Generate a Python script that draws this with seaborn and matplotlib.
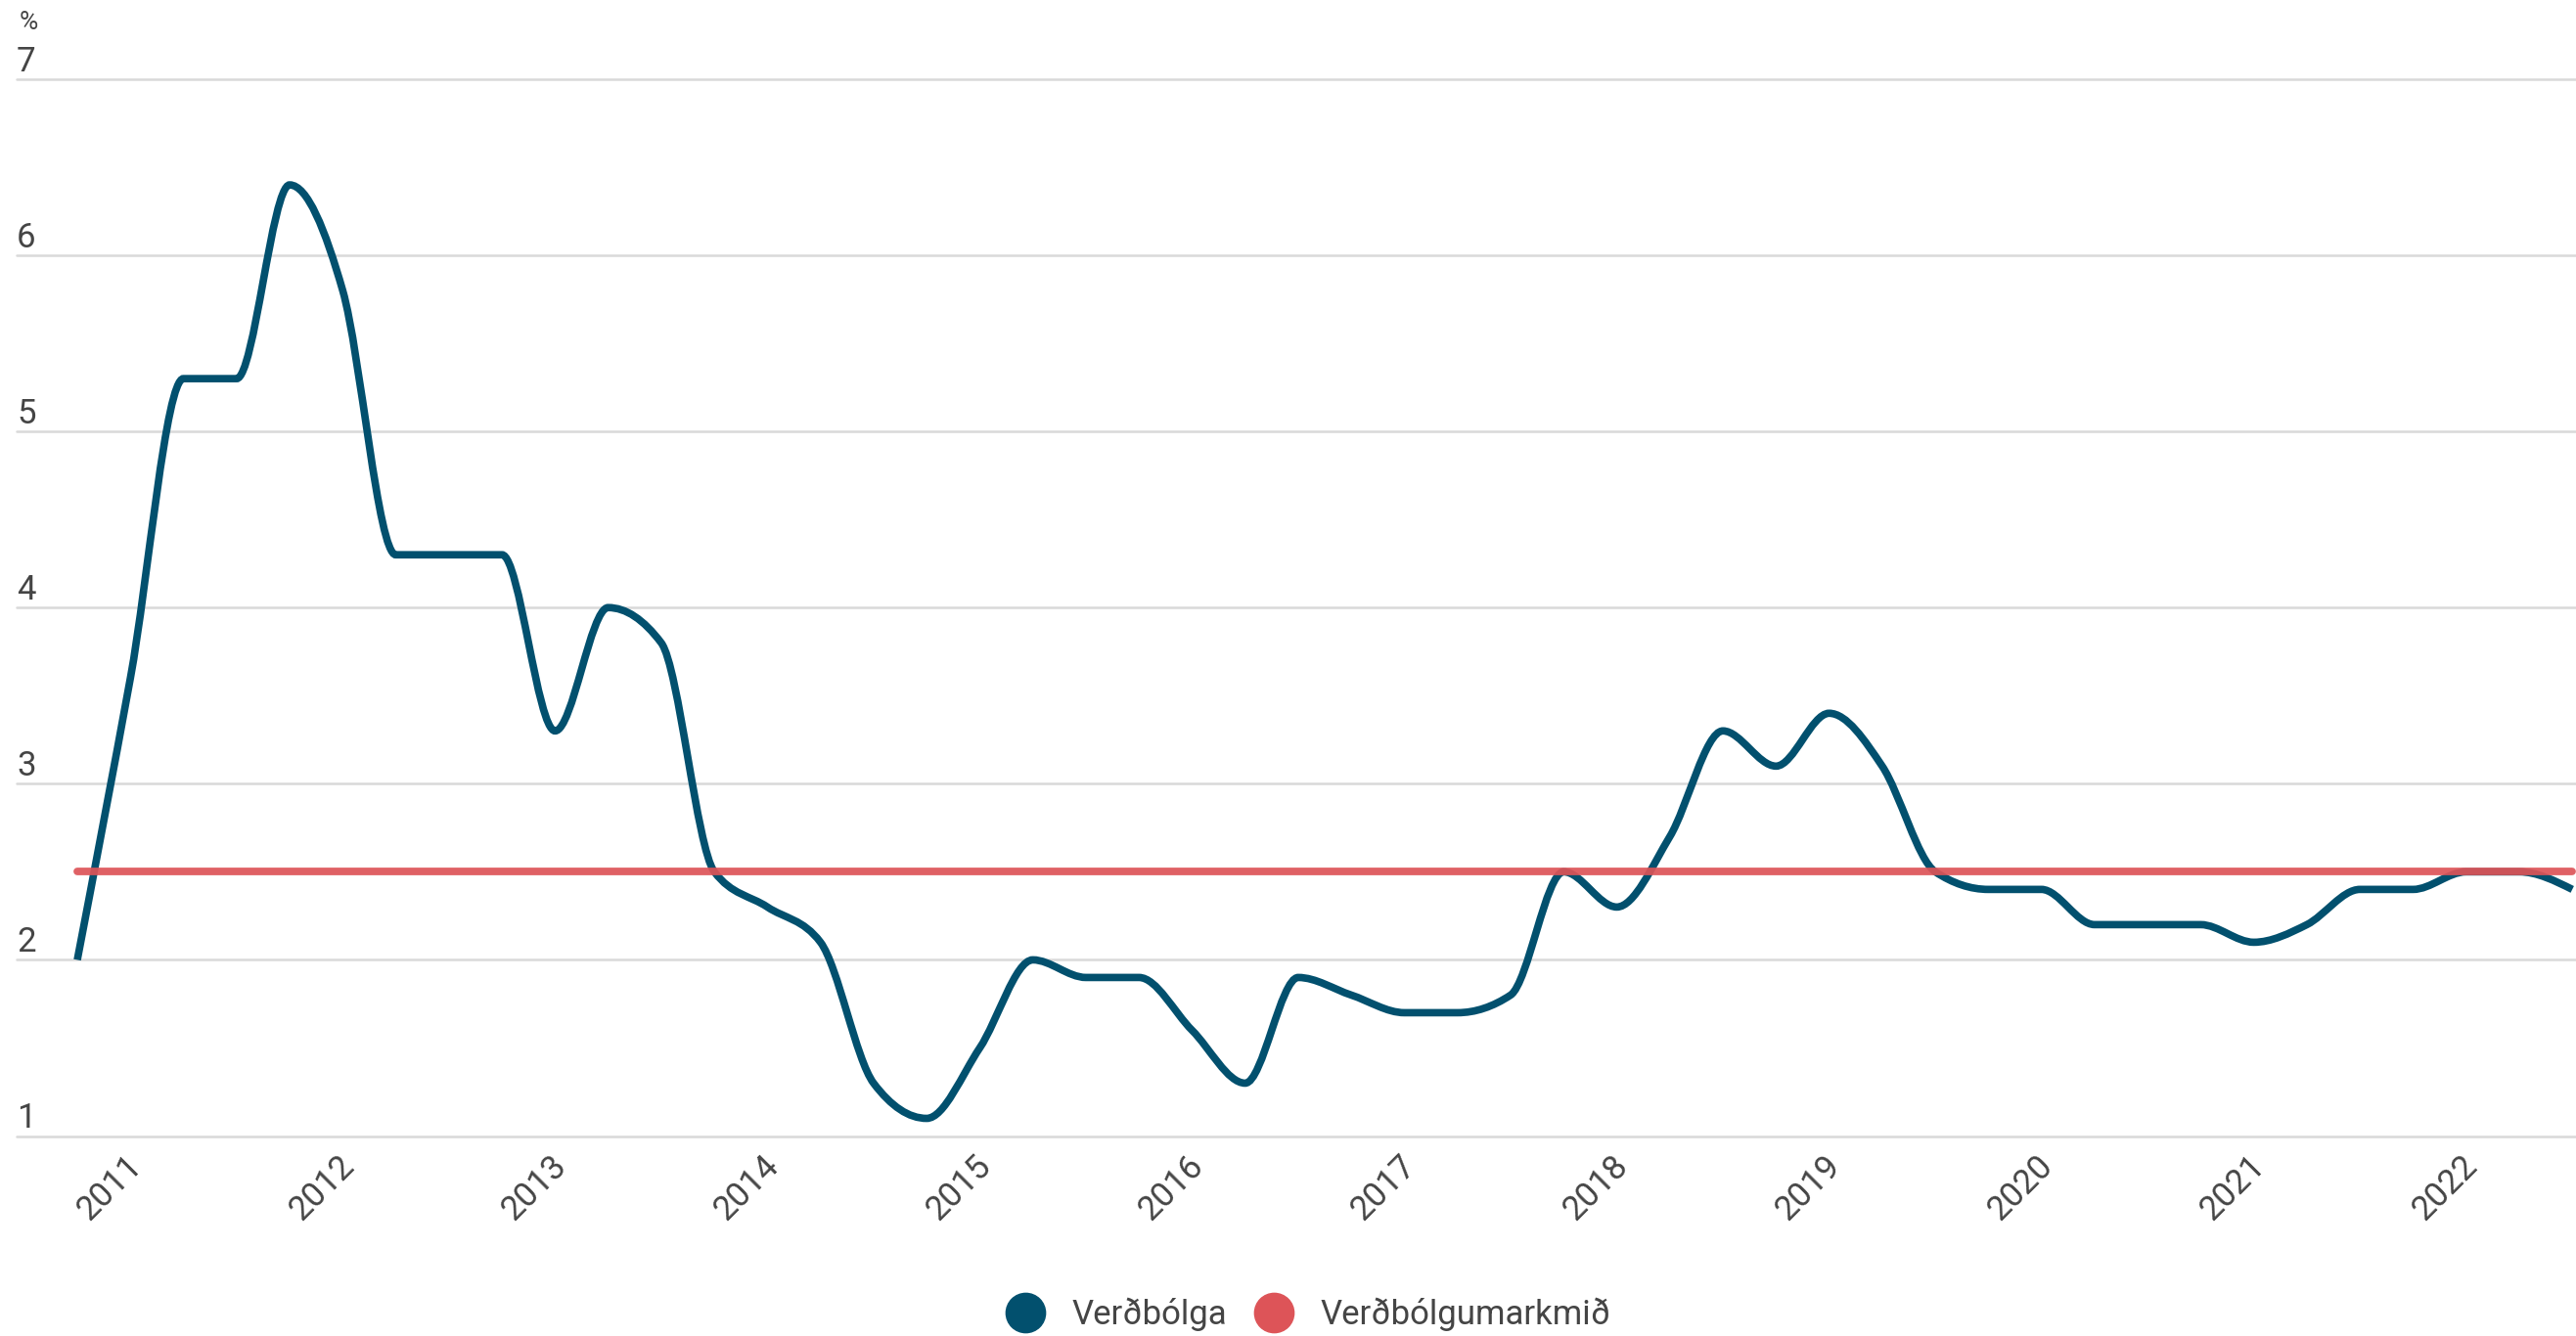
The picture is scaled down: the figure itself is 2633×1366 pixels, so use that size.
import numpy as np
import pandas as pd
import seaborn as sns
import matplotlib.pyplot as plt
from matplotlib.path import Path
from matplotlib.patches import PathPatch
from matplotlib.lines import Line2D
import matplotlib.transforms as mtransforms

# Quarterly inflation, 2011Q1 - 2022Q4
years = list(range(2011, 2023))
quarters = [f"{y}Q{q}" for y in years for q in range(1, 5)]
inflation = [2.0, 3.6, 5.3, 5.3, 6.4, 5.8, 4.3, 4.3, 4.3, 3.3, 4.0, 3.8,
             2.5, 2.3, 2.1, 1.3, 1.1, 1.5, 2.0, 1.9, 1.9, 1.6, 1.3, 1.9,
             1.8, 1.7, 1.7, 1.8, 2.5, 2.3, 2.7, 3.3, 3.1, 3.4, 3.1, 2.5,
             2.4, 2.4, 2.2, 2.2, 2.2, 2.1, 2.2, 2.4, 2.4, 2.5, 2.5, 2.4]
target = [2.5] * len(quarters)
y_ticks = [1, 2, 3, 4, 5, 6, 7]
year_labels = [str(y) for y in years]

df = pd.DataFrame({'quarter': quarters, 'inflation': inflation, 'target': target})
df['pos'] = np.arange(len(df))

BLUE = '#02506e'
RED = '#dd5458'
GREY_TXT = '#454545'


def monotone_path(x, y):
    # cubic bezier path with monotone tangents (like d3 curveMonotoneX)
    x = np.asarray(x, float)
    y = np.asarray(y, float)
    h = np.diff(x)
    s = np.diff(y) / h
    t = np.zeros_like(y)
    for i in range(1, len(y) - 1):
        p = (s[i - 1] * h[i] + s[i] * h[i - 1]) / (h[i - 1] + h[i])
        t[i] = (np.sign(s[i - 1]) + np.sign(s[i])) * min(abs(s[i - 1]), abs(s[i]), 0.5 * abs(p))
    t[0] = (3 * s[0] - t[1]) / 2
    t[-1] = (3 * s[-1] - t[-2]) / 2
    verts = [(x[0], y[0])]
    codes = [Path.MOVETO]
    for i in range(len(x) - 1):
        dx = h[i] / 3
        verts += [(x[i] + dx, y[i] + dx * t[i]),
                  (x[i + 1] - dx, y[i + 1] - dx * t[i + 1]),
                  (x[i + 1], y[i + 1])]
        codes += [Path.CURVE4] * 3
    return Path(verts, codes)


sns.set_theme(style='white')
plt.rcParams['font.family'] = ['Roboto', 'DejaVu Sans']

W, H = 2633, 1366
fig = plt.figure(figsize=(W / 100, H / 100), dpi=100)
ax = fig.add_axes([17 / W, 1 - 1161.5 / H, 1 - 17 / W, (1161.5 - 81) / H])

# inflation line
ax.add_patch(PathPatch(monotone_path(df['pos'], df['inflation']), facecolor='none',
                       edgecolor=BLUE, lw=5.5, zorder=3, capstyle='butt'))

# target line
sns.lineplot(data=df, x='pos', y='target', color=RED, lw=5.6, alpha=0.92,
             ax=ax, legend=False, zorder=4)

ax.set_xlim(-1.143, 47.07)
ax.set_ylim(1, 7)
ax.set_xlabel('')
ax.set_ylabel('')
for sp in ax.spines.values():
    sp.set_visible(False)

ax.set_yticks(y_ticks)
ax.yaxis.grid(True, color='#d9d9d9', lw=1.8)
ax.xaxis.grid(False)
for gl in ax.get_ygridlines():
    gl.set_clip_on(False)
ax.tick_params(axis='y', length=0, labelleft=False)

# y labels sit on top of the gridlines
trans = mtransforms.blended_transform_factory(ax.transAxes, ax.transData)
for v in y_ticks:
    ax.annotate(str(v), xy=(0, v), xycoords=trans, xytext=(0, 6),
                textcoords='offset points', ha='left', va='baseline',
                fontsize=25, color=GREY_TXT)
fig.text(20 / W, 1 - 30 / H, '%', ha='left', va='baseline', fontsize=19, color=GREY_TXT)

ax.set_xticks([4 * k + 0.61 for k in range(len(years))])
ax.set_xticklabels(year_labels, rotation=45, ha='center', fontsize=25, color=GREY_TXT)
ax.tick_params(axis='x', length=0, pad=10)

handles = [Line2D([], [], marker='o', ls='none', markersize=29, color=BLUE),
           Line2D([], [], marker='o', ls='none', markersize=29, color=RED)]
fig.legend(handles, ['Verðbólga', 'Verðbólgumarkmið'], loc='center',
           bbox_to_anchor=(0.508, 0.016), ncol=2, frameon=False, fontsize=25,
           handlelength=1.15, handletextpad=0.8, columnspacing=0.8,
           labelcolor=GREY_TXT)

fig.savefig('out.png', dpi=100)
